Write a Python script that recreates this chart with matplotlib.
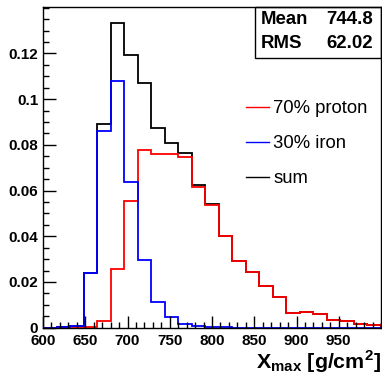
import numpy as np
import matplotlib
matplotlib.use('Agg')
import matplotlib.pyplot as plt
from matplotlib.ticker import MultipleLocator
from matplotlib.lines import Line2D

plt.rcParams['font.family'] = ['Liberation Sans', 'DejaVu Sans']
plt.rcParams['mathtext.fontset'] = 'custom'
plt.rcParams['mathtext.rm'] = 'Liberation Sans:bold'
plt.rcParams['mathtext.bf'] = 'Liberation Sans:bold'

# bin edges of Xmax [g/cm2], 16 g/cm2 wide
edges = np.arange(600, 1001, 16)

# 70% proton (fraction per bin)
proton = [0, 0, 0, 0.0002, 0.0031, 0.0255, 0.0556, 0.0776, 0.0762, 0.0762,
          0.0747, 0.0617, 0.0537, 0.0401, 0.0292, 0.0244, 0.0184, 0.0133,
          0.0063, 0.0068, 0.0060, 0.0034, 0.0030, 0.0015, 0.0012]

# 30% iron
iron = [0, 0.0002, 0.0008, 0.0238, 0.0862, 0.1080, 0.0636, 0.0296, 0.0111,
        0.0045, 0.0016, 0.0009, 0.0003, 0.0002, 0, 0, 0, 0,
        0, 0, 0, 0, 0, 0, 0]

total = np.array(proton) + np.array(iron)

legend_labels = ['70% proton', '30% iron', 'sum']
legend_colors = ['red', 'blue', 'black']

fig = plt.figure(figsize=(3.82, 3.78), dpi=100)
ax = fig.add_axes([43/382, 1 - 327.7/378, 338/382, 320.7/378])

ax.stairs(total, edges, color='black', lw=1.3)
ax.stairs(proton, edges, color='red', lw=1.3)
ax.stairs(iron, edges, color='blue', lw=1.3)

ax.set_xlim(600, 1000)
ax.set_ylim(0, 0.1403)

ax.xaxis.set_minor_locator(MultipleLocator(10))
ax.yaxis.set_minor_locator(MultipleLocator(0.005))
ax.tick_params(which='both', direction='in', top=False, right=False, width=1.0)
ax.tick_params(which='major', length=9, labelsize=11)
ax.tick_params(axis='x', which='major', pad=4.5)
ax.tick_params(which='minor', length=4.5)
ax.set_xticks(np.arange(600, 951, 50))
ax.set_xticklabels([str(v) for v in range(600, 951, 50)], fontweight='bold')
yt = [0, 0.02, 0.04, 0.06, 0.08, 0.1, 0.12]
ax.set_yticks(yt)
ax.set_yticklabels(['0', '0.02', '0.04', '0.06', '0.08', '0.1', '0.12'], fontweight='bold')
for s in ax.spines.values():
    s.set_linewidth(1.0)

lh = [Line2D([], [], color=c, lw=1.0) for c in legend_colors]
ax.legend(lh, legend_labels, loc='upper left',
          bbox_to_anchor=(246/382, 1 - 100/378), bbox_transform=fig.transFigure,
          frameon=False, fontsize=13.3, borderpad=0, borderaxespad=0,
          handlelength=1.25, handletextpad=0.22, labelspacing=0.98)

# stats box
sx0 = 255/382
fig.patches.append(plt.Rectangle((sx0, 1 - 57.7/378), 381/382 - sx0, 50.7/378,
                                 transform=fig.transFigure, fill=False,
                                 lw=1.0, edgecolor='black'))
fig.text(261/382, 1 - 19/378, 'Mean', fontsize=13.4, fontweight='bold', va='center')
fig.text(373/382, 1 - 19/378, '744.8', fontsize=13.4, fontweight='bold', va='center', ha='right')
fig.text(261/382, 1 - 43/378, 'RMS', fontsize=13.4, fontweight='bold', va='center')
fig.text(373/382, 1 - 43/378, '62.02', fontsize=13.4, fontweight='bold', va='center', ha='right')

fig.text(381/382, 1 - 369/378, r'$\mathbf{X_{max}}$ [g/cm$^{\mathbf{2}}$]',
         fontsize=15.4, fontweight='bold', ha='right', va='baseline')

fig.savefig('out.png', dpi=100)
